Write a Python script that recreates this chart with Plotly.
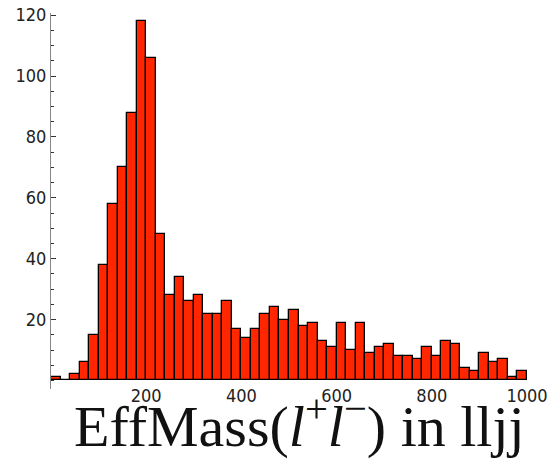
import plotly.graph_objects as go

bin_width = 20
bin_centers = list(range(10, 1000, 20))
counts = [1, 0, 2, 6, 15, 38, 58, 70, 88, 118,
          106, 48, 28, 34, 26, 28, 22, 22, 26, 17,
          14, 17, 22, 24, 20, 23, 18, 19, 13, 11,
          19, 10, 19, 9, 11, 12, 8, 8, 7, 11,
          8, 13, 12, 4, 3, 9, 6, 7, 1, 3]
y_ticks = [20, 40, 60, 80, 100, 120]
x_ticks = [200, 400, 600, 800, 1000]
title_text = "EffMass(<i>l</i><sup>+</sup><i>l</i><sup>−</sup>) in lljj"

fig = go.Figure(go.Bar(
    x=bin_centers, y=counts, width=bin_width,
    marker=dict(color="#FF2600", line=dict(color="black", width=1.3)),
))

tick_font = dict(family="DejaVu Sans Condensed, DejaVu Sans", size=18, color="#222")

fig.update_layout(
    width=551, height=461,
    margin=dict(l=51, r=24, t=13, b=72),
    plot_bgcolor="white", paper_bgcolor="white",
    showlegend=False, bargap=0,
    xaxis=dict(range=[0, 1000], tickvals=x_ticks, showline=False, ticks="",
               showgrid=False, zeroline=False, tickfont=tick_font,
               ticklabelstandoff=-6, automargin=False),
    yaxis=dict(range=[-2.8, 120.7], tickvals=y_ticks, showline=True, linecolor="#888",
               linewidth=1, ticks="inside", ticklen=5, tickcolor="#333",
               minor=dict(dtick=5, tick0=0, ticks="inside", ticklen=3, tickcolor="#333"),
               showgrid=False, zeroline=False, tickfont=tick_font, automargin=False),
    annotations=[dict(text=title_text, x=0.5, y=0, xref="paper", yref="paper",
                      xanchor="center", yanchor="middle", yshift=-33, xshift=10, showarrow=False,
                      font=dict(family="Liberation Serif, DejaVu Serif", size=58, color="#111"))],
)

fig.write_html("out.html", config={"displayModeBar": False},
               post_script="document.body.style.margin='0';")
